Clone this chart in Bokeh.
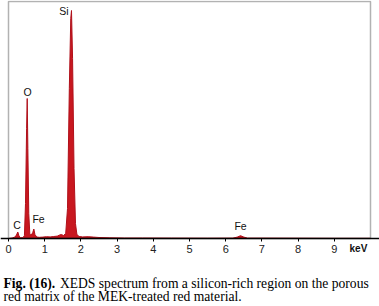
from bokeh.plotting import figure
from bokeh.models import Range1d, FixedTicker, Label, ColumnDataSource, BoxAnnotation
from bokeh.embed import file_html
from bokeh.resources import INLINE

energy = [0.00, 0.10, 0.18, 0.22, 0.257, 0.29, 0.33, 0.40, 0.44, 0.47, 0.50, 0.517, 0.535, 0.56, 0.59,
          0.63, 0.67, 0.70, 0.73, 0.78, 0.85, 0.95, 1.05, 1.15, 1.25, 1.35, 1.42, 1.46, 1.52,
          1.58, 1.63, 1.68, 1.72, 1.74, 1.77, 1.81, 1.85, 1.89, 1.95, 2.05, 2.20, 2.35, 2.50,
          2.80, 3.20, 3.70, 4.50, 5.50, 6.20, 6.32, 6.41, 6.50, 6.60, 7.00, 8.00, 9.00, 10.0]
counts = [0, 5, 15, 35, 65, 25, 8, 8, 30, 350, 1100, 1400, 900, 250, 40,
          35, 60, 95, 40, 15, 12, 14, 18, 16, 20, 24, 36, 40, 30,
          50, 300, 1500, 2200, 2280, 1800, 700, 150, 40, 20, 16, 18, 14, 10,
          7, 5, 5, 4, 3, 4, 14, 28, 14, 4, 4, 3, 2, 2]

peak_names = ["C", "O", "Fe", "Si", "Fe"]
peak_energy = [0.257, 0.517, 0.70, 1.74, 6.41]

tick_values = [0, 1, 2, 3, 4, 5, 6, 7, 8, 9]
axis_unit = "keV"
caption_bold = "Fig. (16)."
caption_line1 = "XEDS spectrum from a silicon-rich region on the porous"
caption_line2 = "red matrix of the MEK-treated red material."

X_MAX = 10
Y_MAX = 2370

# frame covers the whole canvas; spectrum box drawn inside it
p = figure(width=379, height=306, output_backend="svg", toolbar_location=None,
           x_range=Range1d(-8 / 36.2, X_MAX + 9 / 36.2), y_range=Range1d(-680, Y_MAX + 10),
           min_border=0)
p.background_fill_color = "white"
p.border_fill_color = "white"
p.outline_line_color = None
p.xgrid.visible = False
p.ygrid.visible = False
p.yaxis.visible = False

src = ColumnDataSource(dict(x=energy, y=counts))
p.varea(x="x", y1=0, y2="y", source=src, fill_color="#c8171f")
p.line(x="x", y="y", source=src, line_color="#b0101a", line_width=1)

p.add_layout(BoxAnnotation(left=0, right=X_MAX, bottom=0, top=Y_MAX,
                           fill_alpha=0, line_color="black", line_width=1.5))

xa = p.xaxis[0]
xa.fixed_location = 0
xa.ticker = FixedTicker(ticks=tick_values)
xa.axis_line_color = "black"
xa.axis_line_width = 1.5
xa.major_tick_out = 3
xa.major_tick_in = 0
xa.minor_tick_line_color = None
xa.major_label_standoff = 3
xa.major_label_text_font = "Liberation Sans"
xa.major_label_text_font_size = "11px"
xa.major_label_text_color = "#222222"

label_pos = [(0.235, 140), (0.525, 1470), (0.83, 200), (1.53, 2280), (6.41, 130)]
for name, (lx, ly) in zip(peak_names, label_pos):
    p.add_layout(Label(x=lx, y=ly, text=name, text_font="Liberation Sans",
                       text_font_size="10.5px", text_align="center",
                       text_baseline="middle", text_color="#111111"))

p.add_layout(Label(x=9.42, y=-100, text=axis_unit,
                   text_font="Liberation Sans", text_font_size="10px", text_font_style="bold",
                   text_align="left", text_baseline="middle", text_color="#111111"))
p.add_layout(Label(x=-0.138, y=-450, text=caption_bold,
                   text_font="Liberation Serif", text_font_size="13.6px", text_font_style="bold",
                   text_align="left", text_baseline="middle", text_color="black"))
p.add_layout(Label(x=1.42, y=-450, text=caption_line1,
                   text_font="Liberation Serif", text_font_size="13.6px",
                   text_align="left", text_baseline="middle", text_color="black"))
p.add_layout(Label(x=-0.138, y=-580, text=caption_line2,
                   text_font="Liberation Serif", text_font_size="13.6px",
                   text_align="left", text_baseline="middle", text_color="black"))

open("out.html", "w").write(file_html(p, INLINE))
